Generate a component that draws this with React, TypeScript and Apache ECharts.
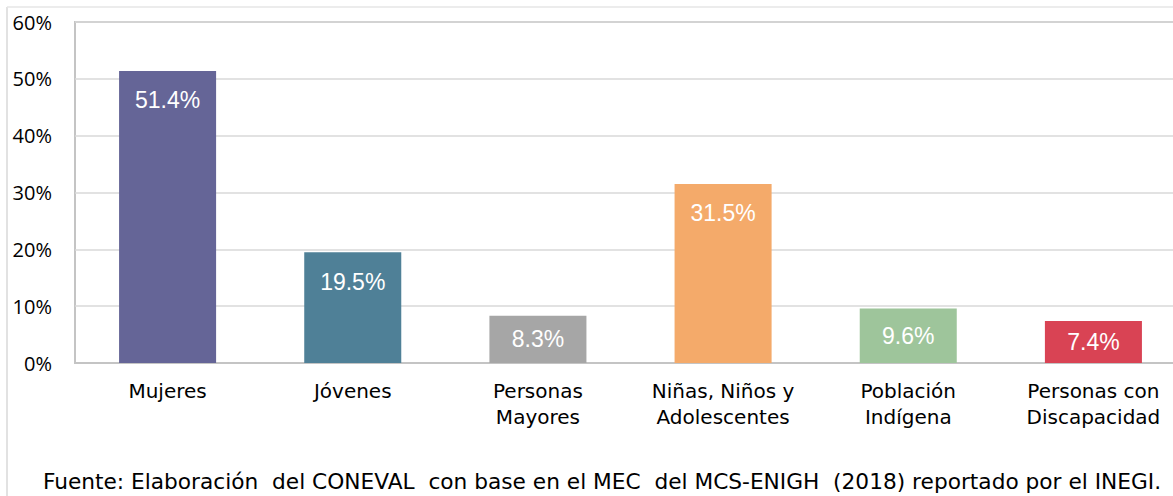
import React, { useEffect, useRef } from "react";
import * as echarts from "echarts";

const categories = [
  "Mujeres",
  "Jóvenes",
  "Personas\nMayores",
  "Niñas, Niños y\nAdolescentes",
  "Población\nIndígena",
  "Personas con\nDiscapacidad",
];
const values = [51.4, 19.5, 8.3, 31.5, 9.6, 7.4];
const barColors = ["#656597", "#4f8097", "#a6a6a6", "#f4aa6a", "#9ec59b", "#d94354"];
const yTicks = { min: 0, max: 60, interval: 10 };
const footer =
  "Fuente: Elaboración  del CONEVAL  con base en el MEC  del MCS-ENIGH  (2018) reportado por el INEGI.";

export default function App() {
  const ref = useRef<HTMLDivElement>(null);
  useEffect(() => {
    document.body.style.margin = "0";
    const chart = echarts.init(ref.current!, null, { renderer: "svg" });
    chart.setOption({
      animation: false,
      backgroundColor: "#ffffff",
      grid: {
        left: 75,
        right: 14,
        top: 22,
        bottom: 133,
        show: true,
        borderColor: "#c4c4c4",
        borderWidth: 2,
      },
      xAxis: {
        type: "category",
        data: categories,
        axisTick: { show: false },
        axisLine: { show: true, lineStyle: { color: "#c4c4c4", width: 2 } },
        axisLabel: {
          interval: 0,
          margin: 15,
          color: "#000",
          fontFamily: "DejaVu Sans",
          fontSize: 20,
          lineHeight: 26,
        },
      },
      yAxis: {
        type: "value",
        min: yTicks.min,
        max: yTicks.max,
        interval: yTicks.interval,
        axisLine: { show: false },
        axisTick: { show: false },
        splitLine: { lineStyle: { color: "#d9d9d9", width: 1.5 } },
        axisLabel: {
          formatter: "{value}%",
          margin: 23,
          color: "#000",
          fontFamily: "Open Sans",
          fontSize: 20,
        },
      },
      graphic: [
        {
          type: "line",
          shape: { x1: 7, y1: 7, x2: 7, y2: 496 },
          style: { stroke: "#d9d9d9", lineWidth: 1.5 },
        },
        {
          type: "line",
          shape: { x1: 7, y1: 7, x2: 1200, y2: 7 },
          style: { stroke: "#e6e6e6", lineWidth: 1.5 },
        },
        {
          type: "text",
          x: 602,
          y: 481,
          style: {
            text: footer,
            fontFamily: "DejaVu Sans",
            fontSize: 21.7,
            fill: "#000",
            textAlign: "center",
            textVerticalAlign: "middle",
          },
        },
      ],
      series: [
        {
          type: "bar",
          barWidth: "52.4%",
          data: values.map((v, i) => ({
            value: v,
            itemStyle: { color: barColors[i] },
            label: v < 10 ? { position: "inside" } : { position: "insideTop", distance: 18 },
          })),
          label: {
            show: true,
            formatter: (p: any) => p.value.toFixed(1) + "%",
            color: "#ffffff",
            fontFamily: "Liberation Sans",
            fontSize: 23,
          },
        },
      ],
    });
    return () => chart.dispose();
  }, []);
  return (
    <div style={{ width: 1173, height: 496, overflow: "hidden" }}>
      <div ref={ref} style={{ width: 1200, height: 496 }} />
    </div>
  );
}
